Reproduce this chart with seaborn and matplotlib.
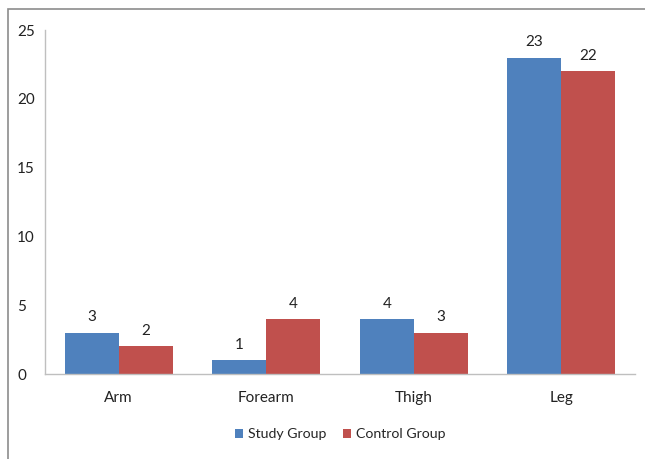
import matplotlib
matplotlib.use("Agg")
import matplotlib.pyplot as plt
import matplotlib.patches as mpatches
import pandas as pd
import seaborn as sns

sites = ["Arm", "Forearm", "Thigh", "Leg"]
study_group = [3, 1, 4, 23]
control_group = [2, 4, 3, 22]
groups = ["Study Group", "Control Group"]
colors = ["#4F81BD", "#C0504D"]
y_ticks = [0, 5, 10, 15, 20, 25]

df = pd.DataFrame({
    "Site": sites * 2,
    "Count": study_group + control_group,
    "Group": [groups[0]] * len(sites) + [groups[1]] * len(sites),
})

sns.set_theme(style="white")
plt.rcParams["font.family"] = ["Lato", "DejaVu Sans"]

W, H = 645, 459
fig = plt.figure(figsize=(W / 100, H / 100), dpi=100)
ax = fig.add_axes([45 / W, 1 - 374 / H, (635 - 45) / W, (374 - 30) / H])

sns.barplot(data=df, x="Site", y="Count", hue="Group", order=sites,
            hue_order=groups, palette=colors, width=0.73, saturation=1,
            edgecolor="none", ax=ax)

for cont in ax.containers:
    ax.bar_label(cont, padding=6, fontsize=11, color="#222222")

ax.set_ylim(0, 25)
ax.set_yticks(y_ticks)
ax.set_xlim(-0.5, 3.5)
ax.set_xlabel("")
ax.set_ylabel("")
ax.tick_params(axis="both", length=0, labelsize=11, colors="#222222")
ax.tick_params(axis="x", pad=12)
ax.tick_params(axis="y", pad=20)
for lbl in ax.get_yticklabels():
    lbl.set_horizontalalignment("left")
for side in ["top", "right"]:
    ax.spines[side].set_visible(False)
for side in ["left", "bottom"]:
    ax.spines[side].set_color("#BFBFBF")
    ax.spines[side].set_linewidth(1)

ax.legend(loc="upper center", bbox_to_anchor=(0.5, -0.12), ncol=2,
          frameon=False, fontsize=10.2, handlelength=0.6, handleheight=0.6,
          handletextpad=0.3, columnspacing=1.2)

# outer chart frame
fig.add_artist(mpatches.Rectangle((8 / W, -0.1), 1.2, 1 - 9 / H + 0.1,
                                  transform=fig.transFigure, fill=False,
                                  edgecolor="#8C8C8C", linewidth=1.2))

fig.savefig("out.png", dpi=100)
